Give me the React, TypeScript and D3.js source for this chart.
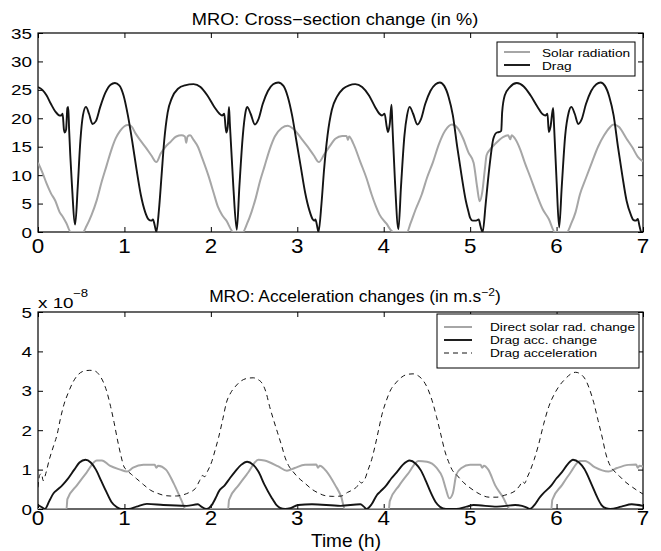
import React, { useEffect, useRef } from 'react'
import * as d3 from 'd3'

const hours = [0, 1, 2, 3, 4, 5, 6, 7]
const pctTicks = [0, 5, 10, 15, 20, 25, 30, 35]
const accTicks = [0, 1, 2, 3, 4, 5]

// top panel: cross-section change (%)
const solarPct: [number, number][] = [
  [0, 12.2], [0.05, 10.5], [0.1, 8.5], [0.15, 6.8], [0.2, 5.5], [0.25, 3.5], [0.29, 2.6], [0.33, 1.5], [0.38, 0],
  [0.52, 0], [0.56, 1], [0.62, 3], [0.68, 5.6], [0.74, 9], [0.79, 11.5], [0.85, 14.5], [0.9, 16.5], [0.95, 17.8],
  [1.0, 18.6], [1.04, 18.8], [1.08, 18.6], [1.13, 17.3], [1.18, 16.2], [1.25, 14.8], [1.31, 13.5], [1.37, 12.3],
  [1.42, 13.8], [1.47, 14.9], [1.53, 15.8], [1.6, 16.8], [1.66, 17], [1.7, 16.8], [1.715, 15.7], [1.73, 16.8],
  [1.76, 17], [1.8, 16.2], [1.85, 15], [1.9, 13], [1.97, 10], [2.03, 7], [2.08, 4.5], [2.13, 3], [2.18, 2], [2.26, 0],
  [2.37, 0], [2.42, 1.5], [2.47, 3.5], [2.52, 6], [2.57, 9], [2.62, 11.5], [2.68, 14.5], [2.74, 16.8], [2.82, 18.3],
  [2.89, 18.7], [2.95, 18.2], [3.05, 16.4], [3.12, 15], [3.19, 13.5], [3.25, 12.3], [3.31, 13.6], [3.38, 15.2],
  [3.44, 16.4], [3.52, 16.9], [3.57, 16.9], [3.585, 16.2], [3.6, 16.8], [3.65, 15.5], [3.73, 12.3], [3.8, 9.5],
  [3.86, 6.6], [3.91, 4.5], [3.95, 3.1], [4.03, 1.5], [4.11, 0], [4.27, 0], [4.31, 1.5], [4.37, 4], [4.44, 6.6],
  [4.5, 9.5], [4.57, 12.3], [4.64, 15.5], [4.71, 17.8], [4.79, 18.9], [4.86, 18.2], [4.92, 16.4], [4.98, 14],
  [5.04, 12.2], [5.08, 8], [5.11, 5.4], [5.14, 7], [5.17, 11], [5.19, 13.5], [5.23, 14.5], [5.29, 15.5], [5.38, 16.7],
  [5.44, 17], [5.465, 16.3], [5.48, 17], [5.52, 16.4], [5.58, 14.5], [5.63, 12.3], [5.7, 9.5], [5.77, 6.6], [5.84, 4],
  [5.91, 2.3], [5.98, 0], [6.12, 0], [6.17, 1.5], [6.22, 3.5], [6.27, 6.6], [6.34, 9.5], [6.41, 12.3], [6.48, 15],
  [6.55, 17], [6.61, 18.3], [6.66, 18.9], [6.72, 18.5], [6.81, 16.4], [6.88, 14.8], [6.94, 13.2], [7.0, 12.4],
]

const dragPct: [number, number][] = [
  [0, 25.5], [0.05, 25], [0.1, 24], [0.15, 22.5], [0.2, 21.2], [0.25, 20.5], [0.27, 20.5], [0.285, 20.8], [0.3, 18],
  [0.31, 17.5], [0.325, 18], [0.34, 21.8], [0.35, 22], [0.36, 18], [0.39, 9], [0.43, 1.3], [0.46, 8], [0.49, 16],
  [0.52, 20.5], [0.555, 22], [0.59, 20.8], [0.63, 19], [0.67, 19.5], [0.72, 22], [0.78, 24.5], [0.84, 25.9],
  [0.89, 26.2], [0.94, 25.8], [0.99, 24], [1.04, 20.5], [1.09, 16], [1.14, 11], [1.19, 6.5], [1.24, 3.5], [1.28, 2.2],
  [1.31, 2], [1.33, 2.2], [1.35, 1.2], [1.37, 0], [1.4, 4], [1.43, 10], [1.46, 16], [1.5, 21], [1.55, 23.6],
  [1.62, 25.2], [1.7, 25.8], [1.8, 26], [1.88, 25.5], [1.96, 24], [2.04, 22], [2.1, 20.8], [2.13, 20.5],
  [2.155, 20.8], [2.17, 18.5], [2.18, 17.5], [2.195, 18.5], [2.21, 22], [2.22, 19], [2.26, 8], [2.3, 0.4], [2.33, 8],
  [2.37, 17], [2.4, 21], [2.42, 22], [2.46, 20.8], [2.51, 18.9], [2.55, 19.8], [2.6, 22.5], [2.66, 24.8], [2.72, 26],
  [2.78, 26.3], [2.84, 25.7], [2.89, 23.8], [2.94, 20.5], [2.99, 16], [3.04, 11.5], [3.09, 7], [3.14, 3.8],
  [3.18, 2.2], [3.2, 2], [3.21, 2.2], [3.23, 1], [3.245, 0], [3.28, 5], [3.31, 11], [3.35, 17], [3.4, 21.5],
  [3.46, 23.8], [3.53, 25.2], [3.6, 25.8], [3.67, 26], [3.75, 25.5], [3.83, 24], [3.9, 22], [3.95, 20.8], [3.98, 20.5],
  [4.01, 20.8], [4.035, 18.5], [4.05, 17.6], [4.07, 19], [4.09, 22.4], [4.1, 19], [4.13, 9], [4.17, 0.5], [4.2, 8],
  [4.24, 17], [4.27, 20.5], [4.3, 22], [4.34, 20.8], [4.39, 18.9], [4.43, 19.8], [4.48, 22.5], [4.54, 24.8],
  [4.6, 26], [4.65, 26.3], [4.7, 25.7], [4.75, 23.8], [4.8, 20.5], [4.85, 15], [4.9, 10], [4.95, 5.5], [4.98, 3.6],
  [5.0, 2.5], [5.03, 2], [5.07, 2], [5.1, 2.2], [5.12, 1], [5.145, 0], [5.18, 5], [5.22, 11], [5.27, 16.5],
  [5.31, 17.5], [5.34, 17.6], [5.36, 17.8], [5.37, 21], [5.4, 24], [5.46, 25.5], [5.54, 26.2], [5.62, 25.6],
  [5.7, 24], [5.78, 22], [5.84, 20.7], [5.87, 20.5], [5.895, 20.8], [5.91, 17.6], [5.93, 18.5], [5.96, 21.8],
  [5.97, 19], [6.0, 9], [6.03, 0.8], [6.06, 8], [6.1, 17], [6.14, 21], [6.17, 22], [6.21, 20.8], [6.25, 19],
  [6.29, 19.8], [6.34, 22.5], [6.4, 24.8], [6.46, 26], [6.51, 26.3], [6.56, 25.7], [6.61, 23.8], [6.66, 20.5],
  [6.71, 15], [6.76, 10], [6.81, 5.5], [6.86, 3], [6.89, 2.1], [6.92, 2], [6.94, 2.3], [6.96, 1], [6.98, 0], [7.0, 0],
]

// bottom panel: acceleration changes (x 1e-8 m/s^2)
const solarAcc: [number, number][] = [
  [0, 0], [0.33, 0], [0.34, 0.25], [0.45, 0.6], [0.56, 0.92], [0.68, 1.23], [0.74, 1.23], [0.83, 1.1], [0.95, 1.0],
  [1.03, 0.95], [1.1, 1.05], [1.22, 1.12], [1.35, 1.12], [1.37, 1.05], [1.39, 1.1], [1.48, 1.0], [1.57, 0.65],
  [1.66, 0.22], [1.71, 0], [2.2, 0], [2.21, 0.23], [2.32, 0.6], [2.43, 0.92], [2.55, 1.25], [2.62, 1.23],
  [2.78, 1.08], [2.88, 0.97], [2.97, 1.04], [3.09, 1.12], [3.22, 1.13], [3.24, 1.05], [3.26, 1.1], [3.34, 0.95],
  [3.44, 0.6], [3.51, 0.3], [3.55, 0], [4.06, 0], [4.07, 0.2], [4.18, 0.6], [4.29, 0.92], [4.4, 1.22], [4.5, 1.2],
  [4.61, 1.05], [4.68, 0.8], [4.72, 0.5], [4.76, 0.27], [4.8, 0.4], [4.84, 0.87], [4.9, 1.04], [5.0, 1.12],
  [5.12, 1.12], [5.14, 1.05], [5.16, 1.1], [5.21, 1.0], [5.29, 0.6], [5.38, 0.3], [5.46, 0], [5.94, 0], [5.95, 0.23],
  [6.06, 0.6], [6.16, 0.92], [6.27, 1.22], [6.33, 1.22], [6.44, 1.06], [6.6, 0.95], [6.7, 1.04], [6.83, 1.12],
  [6.92, 1.13], [6.94, 1.05], [6.96, 1.1], [7.0, 1.08],
]

const dragAccChange: [number, number][] = [
  [0, 0.1], [0.04, 0.05], [0.08, 0], [0.13, 0.2], [0.18, 0.4], [0.23, 0.5], [0.28, 0.6], [0.34, 0.75], [0.42, 1.0],
  [0.48, 1.18], [0.55, 1.25], [0.61, 1.18], [0.67, 1.0], [0.73, 0.72], [0.79, 0.44], [0.85, 0.18], [0.91, 0.05],
  [0.96, 0], [1.05, 0], [1.14, 0.06], [1.26, 0.13], [1.45, 0.1], [1.72, 0.08], [1.85, 0.12], [1.89, 0.06],
  [1.95, 0], [2.01, 0.1], [2.06, 0.3], [2.09, 0.44], [2.16, 0.6], [2.22, 0.78], [2.28, 0.95], [2.35, 1.12],
  [2.42, 1.2], [2.49, 1.12], [2.55, 0.95], [2.62, 0.62], [2.7, 0.3], [2.76, 0.1], [2.8, 0.03], [2.86, 0],
  [2.92, 0.02], [3.01, 0.1], [3.17, 0.12], [3.5, 0.08], [3.73, 0.12], [3.77, 0.06], [3.8, 0], [3.86, 0.12],
  [3.92, 0.35], [3.96, 0.44], [4.03, 0.6], [4.09, 0.78], [4.15, 0.93], [4.22, 1.12], [4.3, 1.23], [4.37, 1.15],
  [4.43, 0.98], [4.49, 0.7], [4.54, 0.44], [4.6, 0.18], [4.65, 0.06], [4.72, 0], [4.84, 0], [4.96, 0.06],
  [5.04, 0.1], [5.31, 0.06], [5.52, 0.1], [5.6, 0.08], [5.65, 0.04], [5.69, 0], [5.75, 0.12], [5.8, 0.28],
  [5.83, 0.36], [5.94, 0.6], [6.0, 0.78], [6.06, 0.93], [6.13, 1.14], [6.19, 1.25], [6.26, 1.18], [6.32, 1.02],
  [6.41, 0.6], [6.47, 0.3], [6.52, 0.1], [6.57, 0.02], [6.62, 0], [6.75, 0.06], [6.87, 0.12], [7.0, 0.08],
]

const dragAcc: [number, number][] = [
  [0, 0.55], [0.02, 0.86], [0.04, 0.9], [0.06, 0.72], [0.09, 0.9], [0.13, 1.25], [0.18, 1.6], [0.22, 1.88],
  [0.26, 2.3], [0.3, 2.65], [0.35, 2.95], [0.4, 3.2], [0.46, 3.4], [0.53, 3.5], [0.6, 3.52], [0.66, 3.5],
  [0.71, 3.4], [0.76, 3.2], [0.8, 2.95], [0.84, 2.6], [0.88, 2.2], [0.92, 1.75], [0.96, 1.35], [0.99, 1.1],
  [1.03, 0.98], [1.08, 0.88], [1.14, 0.77], [1.22, 0.62], [1.3, 0.48], [1.38, 0.4], [1.45, 0.35], [1.53, 0.33],
  [1.6, 0.33], [1.68, 0.36], [1.75, 0.42], [1.82, 0.52], [1.87, 0.72], [1.9, 0.85], [1.93, 0.82], [1.96, 0.95],
  [2.01, 1.2], [2.05, 1.5], [2.09, 1.82], [2.14, 2.3], [2.18, 2.7], [2.23, 2.95], [2.28, 3.1], [2.35, 3.25],
  [2.43, 3.32], [2.49, 3.33], [2.55, 3.28], [2.59, 3.2], [2.64, 2.95], [2.68, 2.6], [2.72, 2.3], [2.77, 1.95],
  [2.82, 1.6], [2.86, 1.3], [2.9, 1.1], [2.95, 0.95], [3.01, 0.8], [3.09, 0.65], [3.17, 0.5], [3.25, 0.4],
  [3.32, 0.34], [3.42, 0.32], [3.51, 0.33], [3.58, 0.42], [3.65, 0.5], [3.7, 0.6], [3.72, 0.7], [3.74, 0.66],
  [3.78, 0.75], [3.82, 1.0], [3.86, 1.25], [3.9, 1.6], [3.94, 2.0], [3.98, 2.4], [4.03, 2.75], [4.08, 3.02],
  [4.14, 3.2], [4.21, 3.35], [4.28, 3.42], [4.34, 3.43], [4.4, 3.38], [4.46, 3.25], [4.51, 3.05], [4.56, 2.75],
  [4.61, 2.35], [4.66, 1.9], [4.71, 1.45], [4.75, 1.2], [4.79, 1.0], [4.85, 0.85], [4.92, 0.68], [5.01, 0.52],
  [5.11, 0.38], [5.22, 0.3], [5.31, 0.3], [5.4, 0.35], [5.47, 0.4], [5.52, 0.46], [5.57, 0.58], [5.61, 0.7],
  [5.63, 0.65], [5.66, 0.8], [5.69, 0.95], [5.74, 1.25], [5.79, 1.62], [5.85, 2.15], [5.91, 2.6], [5.97, 2.9],
  [6.03, 3.12], [6.1, 3.3], [6.16, 3.42], [6.22, 3.47], [6.28, 3.42], [6.33, 3.3], [6.38, 3.05], [6.43, 2.7],
  [6.48, 2.25], [6.53, 1.8], [6.57, 1.4], [6.62, 1.1], [6.66, 0.98], [6.72, 0.85], [6.8, 0.68], [6.88, 0.55],
  [6.94, 0.46], [7.0, 0.38],
]

const GRAY = '#a6a6a6'
const BLACK = '#141414'
const FONT = '"Liberation Sans", Arial, Helvetica, sans-serif'

const App = () => {
  const ref = useRef<SVGSVGElement>(null)

  useEffect(() => {
    const svg = d3.select(ref.current)
    svg.selectAll('*').remove()
    svg.attr('font-family', FONT)

    const left = 38
    const right = 643
    const x = d3.scaleLinear().domain([0, 7]).range([left, right])

    const txt = (g: any, s: string, px: number, py: number, size: number, anchor: string, sx: number) =>
      g
        .append('text')
        .attr('transform', `translate(${px},${py}) scale(${sx},1)`)
        .attr('font-size', size)
        .attr('text-anchor', anchor)
        .attr('fill', '#000')
        .text(s)

    const panel = (id: string, y: d3.ScaleLinear<number, number>, yTicks: number[], xLabY: number) => {
      const [bottom, top] = y.range()
      const g = svg.append('g')
      g.append('clipPath')
        .attr('id', id)
        .append('rect')
        .attr('x', left)
        .attr('y', top)
        .attr('width', right - left)
        .attr('height', bottom - top)

      // ticks inward on all four sides
      g.append('g')
        .attr('transform', `translate(0,${bottom})`)
        .call(d3.axisBottom(x).tickValues(hours).tickSize(-5).tickFormat(() => ''))
      g.append('g')
        .attr('transform', `translate(0,${top})`)
        .call(d3.axisTop(x).tickValues(hours).tickSize(-5).tickFormat(() => ''))
      g.append('g')
        .attr('transform', `translate(${left},0)`)
        .call(d3.axisLeft(y).tickValues(yTicks).tickSize(-5).tickFormat(() => ''))
      g.append('g')
        .attr('transform', `translate(${right},0)`)
        .call(d3.axisRight(y).tickValues(yTicks).tickSize(-5).tickFormat(() => ''))
      g.selectAll('.domain').remove()
      g.selectAll('.tick line').attr('stroke', '#000').attr('stroke-width', 1)

      g.append('rect')
        .attr('x', left)
        .attr('y', top)
        .attr('width', right - left)
        .attr('height', bottom - top)
        .attr('fill', 'none')
        .attr('stroke', '#000')
        .attr('stroke-width', 1.2)

      hours.forEach(h => txt(g, String(h), x(h), xLabY, 20, 'middle', 1.12))
      yTicks.forEach(v => txt(g, String(v), 32, y(v) + 5.5, 14.5, 'end', 1.3))
      return g
    }

    const line = (y: d3.ScaleLinear<number, number>) =>
      d3
        .line<[number, number]>()
        .x(d => x(d[0]))
        .y(d => y(d[1]))
        .curve(d3.curveMonotoneX)

    // ---- top panel
    const yTop = d3.scaleLinear().domain([0, 35]).range([232, 33])
    const gTop = panel('clipTop', yTop, pctTicks, 253)
    const lt = line(yTop)
    gTop.append('path').attr('d', lt(solarPct)).attr('fill', 'none').attr('stroke', GRAY).attr('stroke-width', 2)
      .attr('clip-path', 'url(#clipTop)')
    gTop.append('path').attr('d', lt(dragPct)).attr('fill', 'none').attr('stroke', BLACK).attr('stroke-width', 1.9)
      .attr('clip-path', 'url(#clipTop)')
    txt(svg, 'MRO: Cross\u2212section change (in %)', 335, 25, 16.3, 'middle', 1.12)

    const leg1 = svg.append('g')
    leg1.append('rect').attr('x', 497).attr('y', 42).attr('width', 138).attr('height', 34)
      .attr('fill', '#fff').attr('stroke', '#000').attr('stroke-width', 1)
    leg1.append('line').attr('x1', 504).attr('x2', 530).attr('y1', 52).attr('y2', 52).attr('stroke', GRAY).attr('stroke-width', 2)
    leg1.append('line').attr('x1', 504).attr('x2', 530).attr('y1', 65).attr('y2', 65).attr('stroke', BLACK).attr('stroke-width', 1.9)
    txt(leg1, 'Solar radiation', 542, 56.5, 11.3, 'start', 1.21)
    txt(leg1, 'Drag', 542, 69.5, 11.3, 'start', 1.21)

    // ---- bottom panel
    const yBot = d3.scaleLinear().domain([0, 5]).range([509, 312])
    const gBot = panel('clipBot', yBot, accTicks, 525)
    const lb = line(yBot)
    gBot.append('path').attr('d', lb(solarAcc)).attr('fill', 'none').attr('stroke', GRAY).attr('stroke-width', 2)
      .attr('clip-path', 'url(#clipBot)')
    gBot.append('path').attr('d', lb(dragAccChange)).attr('fill', 'none').attr('stroke', BLACK).attr('stroke-width', 1.9)
      .attr('clip-path', 'url(#clipBot)')
    gBot.append('path').attr('d', lb(dragAcc)).attr('fill', 'none').attr('stroke', BLACK).attr('stroke-width', 1)
      .attr('stroke-dasharray', '5,4').attr('clip-path', 'url(#clipBot)')

    txt(svg, 'x 10', 38, 308, 14.5, 'start', 1.3)
    txt(svg, '\u22128', 73, 297, 11, 'start', 1.2)

    const t2 = svg.append('text')
      .attr('transform', `translate(355,302) scale(1.1,1)`)
      .attr('font-size', 15.8)
      .attr('text-anchor', 'middle')
    t2.append('tspan').text('MRO: Acceleration changes (in m.s')
    t2.append('tspan').attr('dy', -6).attr('font-size', 11).text('\u22122')
    t2.append('tspan').attr('dy', 6).text(')')

    txt(svg, 'Time (h)', 346, 547, 19, 'middle', 1)

    const leg2 = svg.append('g')
    leg2.append('rect').attr('x', 437).attr('y', 314).attr('width', 202).attr('height', 54)
      .attr('fill', '#fff').attr('stroke', '#000').attr('stroke-width', 1)
    leg2.append('line').attr('x1', 444).attr('x2', 472).attr('y1', 327).attr('y2', 327).attr('stroke', GRAY).attr('stroke-width', 2)
    leg2.append('line').attr('x1', 444).attr('x2', 472).attr('y1', 340).attr('y2', 340).attr('stroke', BLACK).attr('stroke-width', 1.9)
    leg2.append('line').attr('x1', 444).attr('x2', 472).attr('y1', 353).attr('y2', 353).attr('stroke', BLACK).attr('stroke-width', 1)
      .attr('stroke-dasharray', '5,4')
    txt(leg2, 'Direct solar rad. change', 490, 331, 11.3, 'start', 1.21)
    txt(leg2, 'Drag acc. change', 490, 344, 11.3, 'start', 1.21)
    txt(leg2, 'Drag acceleration', 490, 357, 11.3, 'start', 1.21)
  }, [])

  return (
    <svg
      ref={ref}
      width={661}
      height={551}
      style={{ position: 'absolute', left: 0, top: 0, background: '#fff' }}
    />
  )
}

export default App
